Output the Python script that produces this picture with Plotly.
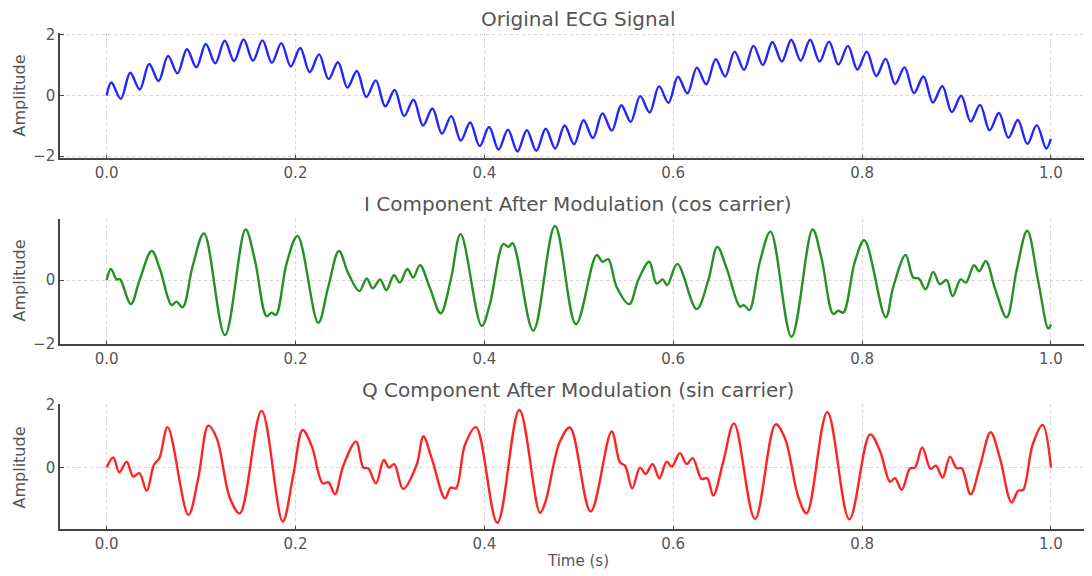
import plotly.graph_objects as go

# ---------------- data ----------------
ecg_t = [0.0, 0.005, 0.015, 0.025, 0.035, 0.045, 0.055, 0.065, 0.075, 0.085, 0.095,
         0.105, 0.115, 0.125, 0.135, 0.145, 0.155, 0.165, 0.175, 0.185, 0.195,
         0.205, 0.215, 0.225, 0.235, 0.245, 0.255, 0.265, 0.275, 0.285, 0.295,
         0.305, 0.315, 0.325, 0.335, 0.345, 0.355, 0.365, 0.375, 0.385, 0.395,
         0.405, 0.415, 0.425, 0.435, 0.445, 0.455, 0.465, 0.475, 0.485, 0.495,
         0.505, 0.515, 0.525, 0.535, 0.545, 0.555, 0.565, 0.575, 0.585, 0.595,
         0.605, 0.615, 0.625, 0.635, 0.645, 0.655, 0.665, 0.675, 0.685, 0.695,
         0.705, 0.715, 0.725, 0.735, 0.745, 0.755, 0.765, 0.775, 0.785, 0.795,
         0.805, 0.815, 0.825, 0.835, 0.845, 0.855, 0.865, 0.875, 0.885, 0.895,
         0.905, 0.915, 0.925, 0.935, 0.945, 0.955, 0.965, 0.975, 0.985, 0.995, 1.0]
ecg_v = [0.0, 0.43, -0.11, 0.75, 0.20, 1.04, 0.48, 1.31, 0.73, 1.53, 0.93,
         1.70, 1.06, 1.81, 1.14, 1.85, 1.15, 1.82, 1.08, 1.73, 0.96,
         1.57, 0.77, 1.36, 0.54, 1.10, 0.26, 0.81, -0.05, 0.50, -0.36,
         0.18, -0.68, -0.14, -0.99, -0.43, -1.26, -0.68, -1.49, -0.89, -1.67,
         -1.04, -1.79, -1.13, -1.85, -1.15, -1.83, -1.10, -1.75, -0.99, -1.61,
         -0.82, -1.41, -0.59, -1.16, -0.32, -0.87, -0.02, -0.56, 0.30, -0.24,
         0.62, 0.07, 0.92, 0.37, 1.20, 0.63, 1.45, 0.85, 1.64, 1.01,
         1.77, 1.12, 1.84, 1.15, 1.84, 1.12, 1.78, 1.02, 1.64, 0.86,
         1.45, 0.64, 1.21, 0.38, 0.93, 0.08, 0.63, -0.23, 0.31, -0.55,
         -0.01, -0.86, -0.31, -1.15, -0.58, -1.40, -0.81, -1.60, -0.98, -1.75, -1.43]

i_t = [0.0, 0.0046, 0.0106, 0.0140, 0.0257, 0.0347, 0.0477, 0.0565, 0.0688, 0.0740,
       0.0805, 0.0911, 0.1031, 0.1253, 0.1471, 0.1570, 0.1694, 0.1747, 0.1793, 0.1906,
       0.2022, 0.2241, 0.2347, 0.2460, 0.2559, 0.2677, 0.2754, 0.2818, 0.2896, 0.2962,
       0.3043, 0.3106, 0.3184, 0.3247, 0.3318, 0.3424, 0.3537, 0.3644, 0.3749, 0.3972,
       0.4060, 0.4201, 0.4254, 0.4300, 0.4518, 0.4748, 0.4970, 0.5189, 0.5252, 0.5312,
       0.5400, 0.5535, 0.5630, 0.5746, 0.5824, 0.5888, 0.5937, 0.6043, 0.6248, 0.6372,
       0.6467, 0.6566, 0.6707, 0.6749, 0.6806, 0.6918, 0.7031, 0.7253, 0.7476, 0.7571,
       0.7695, 0.7748, 0.7801, 0.7924, 0.8024, 0.8250, 0.8331, 0.8461, 0.8542, 0.8600,
       0.8673, 0.8754, 0.8824, 0.8895, 0.8959, 0.9044, 0.9100, 0.9185, 0.9241, 0.9311,
       0.9407, 0.9531, 0.9637, 0.9749, 0.9866, 0.9972, 1.0]
i_v = [0.0, 0.35, 0.02, 0.03, -0.76, -0.02, 0.92, 0.34, -0.79, -0.68,
       -0.86, 0.44, 1.47, -1.74, 1.60, 0.63, -1.14, -1.03, -1.10, 0.53,
       1.39, -1.35, -0.21, 0.92, 0.21, -0.35, 0.05, -0.26, 0.02, -0.32,
       0.15, -0.08, 0.35, 0.08, 0.47, -0.26, -1.05, 0.0, 1.45, -1.45,
       -0.74, 1.14, 1.05, 1.16, -1.60, 1.71, -1.39, 0.79, 0.58, 0.66,
       -0.21, -0.76, 0.0, 0.58, -0.11, 0.02, -0.16, 0.51, -0.92, 0.0,
       1.05, 0.37, -0.84, -0.79, -0.95, 0.58, 1.53, -1.79, 1.60, 0.68,
       -1.07, -0.97, -1.03, 0.58, 1.26, -1.18, -0.21, 0.79, 0.08, 0.05,
       -0.29, 0.26, -0.13, 0.0, -0.51, 0.02, -0.08, 0.47, 0.28, 0.60,
       -0.26, -1.18, 0.32, 1.56, -0.05, -1.53, -1.40]

q_t = [0.0, 0.0070, 0.0134, 0.0212, 0.0282, 0.0346, 0.0424, 0.0501, 0.0558, 0.0646,
       0.0865, 0.0970, 0.1077, 0.1165, 0.1306, 0.1410, 0.1641, 0.1864, 0.1977, 0.2076,
       0.2170, 0.2288, 0.2350, 0.2417, 0.2506, 0.2641, 0.2719, 0.2770, 0.2852, 0.2935,
       0.2990, 0.3045, 0.3140, 0.3283, 0.3354, 0.3442, 0.3583, 0.3643, 0.3700, 0.3794,
       0.3911, 0.4137, 0.4370, 0.4589, 0.4642, 0.4800, 0.4906, 0.5125, 0.5348, 0.5436,
       0.5490, 0.5566, 0.5648, 0.5708, 0.5782, 0.5853, 0.5931, 0.5984, 0.6071, 0.6142,
       0.6206, 0.6300, 0.6360, 0.6424, 0.6530, 0.6644, 0.6866, 0.7084, 0.7183, 0.7324,
       0.7413, 0.7632, 0.7865, 0.8084, 0.8190, 0.8296, 0.8349, 0.8420, 0.8508, 0.8560,
       0.8637, 0.8726, 0.8782, 0.8853, 0.8931, 0.9002, 0.9055, 0.9149, 0.9248, 0.9361,
       0.9460, 0.9583, 0.9654, 0.9705, 0.9807, 0.9913, 1.0]
q_v = [0.0, 0.32, -0.15, 0.19, -0.29, -0.18, -0.74, 0.09, 0.30, 1.29,
       -1.51, -0.34, 1.34, 0.94, -0.98, -1.46, 1.81, -1.72, -0.23, 1.20,
       0.70, -0.50, -0.47, -0.85, 0.06, 0.83, 0.0, -0.02, -0.50, 0.24,
       0.0, 0.11, -0.68, 0.09, 0.99, 0.30, -0.98, -0.64, -0.66, 0.72,
       1.29, -1.76, 1.84, -1.44, -1.14, 0.83, 1.28, -1.40, 1.15, 0.17,
       0.06, -0.66, 0.0, -0.20, 0.11, -0.34, 0.19, 0.03, 0.46, 0.11,
       0.30, -0.36, -0.34, -0.89, 0.19, 1.41, -1.64, 1.38, 0.94, -0.93,
       -1.46, 1.77, -1.65, 1.06, 0.53, -0.45, -0.34, -0.71, -0.03, 0.0,
       0.64, -0.04, 0.06, -0.32, 0.35, -0.02, -0.02, -0.85, 0.03, 1.13,
       0.30, -1.11, -0.74, -0.71, 0.74, 1.36, 0.0]

x_ticks = [0.0, 0.2, 0.4, 0.6, 0.8, 1.0]
x_tick_text = ["0.0", "0.2", "0.4", "0.6", "0.8", "1.0"]
titles = ["Original ECG Signal",
          "I Component After Modulation (cos carrier)",
          "Q Component After Modulation (sin carrier)"]
colors = ["#2424ff", "#259125", "#ff2424"]

# ---------------- figure ----------------
# the page body has an 8 px margin, so the figure is placed at (8, 8)
OFF = 8
W, H = 1092 - OFF, 576 - OFF
ML = 60 - OFF            # left margin inside the figure
PW = W - ML              # plot-area width


def px(xw):
    """window x pixel -> paper x (paper spans the plot area)"""
    return (xw - OFF - ML) / PW


def py(yw):
    """window y pixel -> paper y (no top / bottom margins)"""
    return 1 - (yw - OFF) / H


fig = go.Figure()

series = [(ecg_t, ecg_v), (i_t, i_v), (q_t, q_v)]
# pixel boxes (top, bottom) of each panel in window pixels
boxes = [(33.3, 158.3), (219.3, 344.3), (404.3, 529.3)]
yranges = [[-2.075, 2.055], [-2.03, 1.92], [-1.97, 2.02]]
title_y = [19, 204, 390]
ylab_y = [96, 281, 468]
TXT = "#555555"

for k, ((tt, vv), col) in enumerate(zip(series, colors)):
    sfx = "" if k == 0 else str(k + 1)
    fig.add_trace(go.Scatter(x=tt, y=vv, mode="lines",
                             line=dict(color=col, width=2.4, shape="spline", smoothing=1.0),
                             xaxis="x" + sfx, yaxis="y" + sfx, showlegend=False,
                             hoverinfo="skip"))
    top, bot = boxes[k]
    common = dict(showline=True, linecolor="#444444", linewidth=1.6,
                  showgrid=True, gridcolor="#d4d4d4", griddash="dot", gridwidth=1,
                  zeroline=False, ticks="inside", ticklen=4, tickcolor="#444444",
                  tickfont=dict(family="DejaVu Sans", size=15, color=TXT),
                  automargin=False)
    fig.layout["xaxis" + sfx] = dict(domain=[0, 1], range=[-0.0494, 1.0435],
                                     anchor="y" + sfx, tickvals=x_ticks,
                                     ticktext=x_tick_text, **common)
    fig.layout["yaxis" + sfx] = dict(domain=[py(bot), py(top)],
                                     range=yranges[k], anchor="x" + sfx,
                                     tickvals=[-2, 0, 2], **common)
    fig.add_annotation(text=titles[k], x=px(578), y=py(title_y[k]),
                       xref="paper", yref="paper", showarrow=False,
                       xanchor="center", yanchor="middle",
                       font=dict(family="DejaVu Sans", size=20, color=TXT))
    fig.add_annotation(text="Amplitude", x=px(18.5), y=py(ylab_y[k]),
                       xref="paper", yref="paper", showarrow=False, textangle=-90,
                       xanchor="center", yanchor="middle",
                       font=dict(family="DejaVu Sans", size=16, color=TXT))

fig.add_annotation(text="Time (s)", x=px(578), y=py(561),
                   xref="paper", yref="paper", showarrow=False,
                   xanchor="center", yanchor="middle",
                   font=dict(family="DejaVu Sans", size=15, color=TXT))

fig.update_layout(width=W, height=H, margin=dict(l=ML, r=0, t=0, b=0),
                  paper_bgcolor="white", plot_bgcolor="white")

fig.write_html("out.html")
